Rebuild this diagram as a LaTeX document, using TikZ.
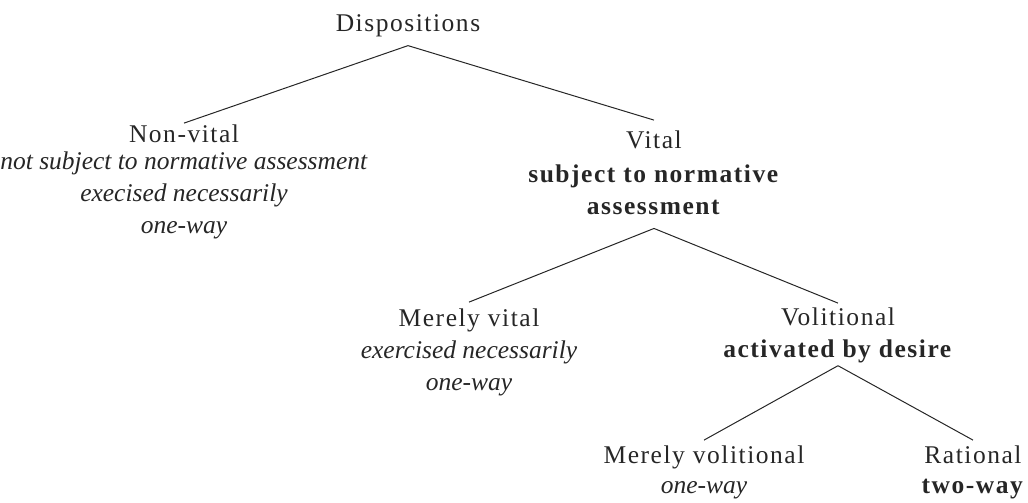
\documentclass[tikz,border=0pt]{standalone}
\usepackage{fontspec}
\setmainfont{Liberation Serif}[UprightFeatures={LetterSpace=6},BoldFeatures={LetterSpace=6}]
\usepackage{tikz}

\begin{document}
\begin{tikzpicture}[x=1bp,y=-1bp,
  lbl/.style={align=center, inner sep=0pt, anchor=base, text=black!85,
    font=\fontsize{25.5bp}{32bp}\selectfont},
  branch/.style={line width=1bp, draw=black!85}]
\useasboundingbox (0,0) rectangle (1028,503);

% nodes sit on the baseline of their last line
\node[lbl] (disp) at (408,32) {Dispositions};
\node[lbl] (nonvital) at (184,234) {Non-vital\\[-5bp]
  \textit{not subject to normative assessment}\\
  \textit{execised necessarily}\\
  \textit{one-way}};
\node[lbl] (vital) at (654,215) {Vital\\[2bp]
  \textbf{subject to normative}\\
  \textbf{assessment}};
\node[lbl] (mvital) at (469,390) {Merely vital\\
  \textit{exercised necessarily}\\
  \textit{one-way}};
\node[lbl] (volit) at (838,358) {Volitional\\
  \textbf{activated by desire}};
\node[lbl] (mvolit) at (704,493) {Merely volitional\\[-2bp]
  \textit{one-way}};
\node[lbl] (rational) at (973,493) {Rational\\[-2bp]
  \textbf{two-way}};

\draw[branch] ([yshift=-8bp]disp.south) -- ([yshift=2bp]nonvital.north);
\draw[branch] ([yshift=-8bp]disp.south) -- ([yshift=11bp]vital.north);
\draw[branch] ([yshift=-13bp]vital.south) -- ([yshift=6bp]mvital.north);
\draw[branch] ([yshift=-13bp]vital.south) -- ([yshift=5bp]volit.north);
\draw[branch] ([yshift=-2bp]volit.south) -- ([yshift=5bp]mvolit.north);
\draw[branch] ([yshift=-2bp]volit.south) -- ([yshift=5bp]rational.north);

\end{tikzpicture}
\end{document}
